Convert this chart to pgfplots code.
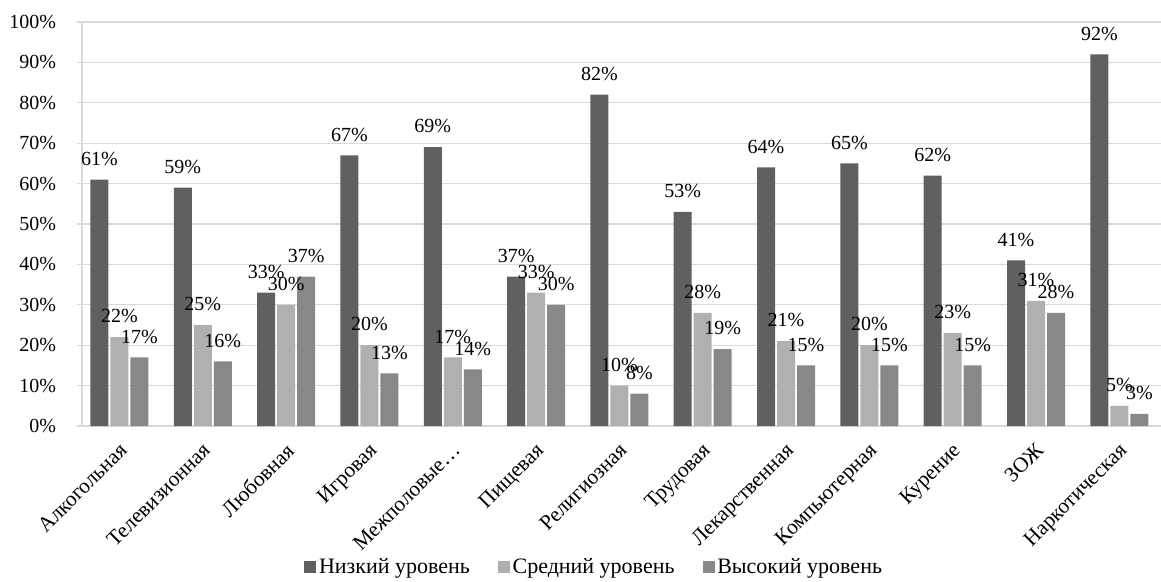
\documentclass[border=0pt]{standalone}
\usepackage{fontspec}
\setmainfont{Liberation Serif}
\usepackage{pgfplots}
\pgfplotsset{compat=1.18}
\definecolor{low}{HTML}{606060}
\definecolor{mid}{HTML}{B0B0B0}
\definecolor{high}{HTML}{888888}
\definecolor{gridc}{HTML}{D9D9D9}

\begin{document}
\begin{tikzpicture}
% fix the page to the reference's margins round the plot area
\useasboundingbox (-61.5pt,-117pt) rectangle (809.25pt,319.5pt);
\begin{axis}[
    at={(0,0)}, anchor=south west,
    scale only axis,
    width=809.25pt, height=303pt,
    font=\fontsize{15}{18}\selectfont,
    ybar=1.5pt, bar width=13.5pt,
    xmin=-0.45, xmax=12.5, ymin=0, ymax=100,
    xtick=data,
    xticklabels={Алкогольная,Телевизионная,Любовная,Игровая,Межполовые…,Пищевая,Религиозная,Трудовая,Лекарственная,Компьютерная,Курение,ЗОЖ,Наркотическая},
    xticklabel style={rotate=45, anchor=north east, yshift=-1.2pt, xshift=-2.8pt,
        font=\fontsize{16}{18}\selectfont},
    xtick style={draw=none},
    ytick={0,10,...,100},
    yticklabel={\pgfmathprintnumber{\tick}\%},
    yticklabel style={xshift=-12pt, font=\fontsize{15}{16}\selectfont},
    /pgf/number format/assume math mode=true,
    ymajorgrids, grid style={gridc, line width=1pt},
    axis x line*=bottom, axis y line*=left,
    x axis line style={gridc, line width=1.5pt, -},
    y axis line style={gridc, line width=1pt, -},
    ytick style={gridc, line width=1pt},
    tick align=outside, major tick length=4pt,
    nodes near coords={\pgfmathprintnumber{\pgfplotspointmeta}\%},
    nodes near coords style={anchor=south, yshift=7pt, text=black, font=\fontsize{15}{18}\selectfont},
    legend style={at={(0.475,-0.35)}, anchor=center, draw=none, legend columns=3,
        font=\fontsize{16.5}{18}\selectfont,
        /tikz/every even column/.append style={column sep=19pt}},
    legend image code/.code={\fill[#1] (0pt,-4.5pt) rectangle (9pt,4.5pt);},
]
\addplot[fill=low, draw=none] coordinates {(0,61) (1,59) (2,33) (3,67) (4,69) (5,37) (6,82) (7,53) (8,64) (9,65) (10,62) (11,41) (12,92)};
\addplot[fill=mid, draw=none] coordinates {(0,22) (1,25) (2,30) (3,20) (4,17) (5,33) (6,10) (7,28) (8,21) (9,20) (10,23) (11,31) (12,5)};
\addplot[fill=high, draw=none] coordinates {(0,17) (1,16) (2,37) (3,13) (4,14) (5,30) (6,8) (7,19) (8,15) (9,15) (10,15) (11,28) (12,3)};
\legend{Низкий уровень, Средний уровень, Высокий уровень}
\end{axis}
\end{tikzpicture}
\end{document}
